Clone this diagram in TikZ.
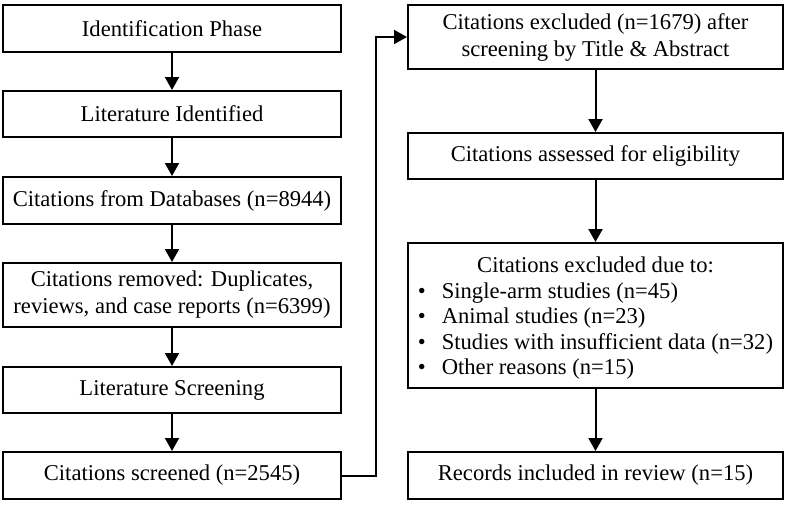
\documentclass[tikz,border=0pt]{standalone}
\usepackage{fontspec}
\setmainfont{Liberation Serif}
\usetikzlibrary{arrows.meta}
\begin{document}
\begin{tikzpicture}[x=1pt,y=-1pt,
  box/.style={draw=black, line width=2pt, inner sep=0pt, align=center,
    font=\fontsize{22.6}{27}\selectfont, minimum height=#1},
  lbox/.style={box=#1, minimum width=337.5pt},
  rbox/.style={box=#1, minimum width=375pt},
  arr/.style={line width=2pt, -{Triangle[length=13pt,width=14pt]}}]
\useasboundingbox (0,0) rectangle (787,504);
\node[lbox=47pt] (L1) at (172,28.5) {Identification Phase};
\node[lbox=46pt] (L2) at (172,114) {Literature Identified};
\node[lbox=47pt] (L3) at (172,200.5) {Citations from Databases (n=8944)};
\node[lbox=64pt] (L4) at (172,295) {Citations removed: Duplicates,\\reviews, and case reports (n=6399)};
\node[lbox=46pt] (L5) at (172,390) {Literature Screening};
\node[lbox=47pt] (L6) at (172,475.5) {Citations screened (n=2545)};
\node[rbox=64pt] (R1) at (595.5,37) {Citations excluded (n=1679) after\\screening by Title \& Abstract};
\node[rbox=46pt] (R2) at (595.5,156) {Citations assessed for eligibility};
\node[rbox=145pt] (R3) at (595.5,315.5) {\fontsize{22.6}{25.5}\selectfont\raisebox{-3pt}[\height][\depth]{\begin{tabular}{@{}l@{\hspace{16pt}}l@{}}
\multicolumn{2}{c}{Citations excluded due to:}\\
\textbullet & Single-arm studies (n=45)\\
\textbullet & Animal studies (n=23)\\
\textbullet & Studies with insufficient data (n=32)\\
\textbullet & Other reasons (n=15)
\end{tabular}}};
\node[rbox=47pt] (R4) at (595.5,475.5) {Records included in review (n=15)};
\coordinate (C1) at (376,475.5);
\draw[arr] (L1) -- (L2);
\draw[arr] (L2) -- (L3);
\draw[arr] (L3) -- (L4);
\draw[arr] (L4) -- (L5);
\draw[arr] (L5) -- (L6);
\draw[arr] (L6.east) -- (C1) |- (R1.west);
\draw[arr] (R1) -- (R2);
\draw[arr] (R2) -- (R3);
\draw[arr] (R3) -- (R4);
\end{tikzpicture}
\end{document}
